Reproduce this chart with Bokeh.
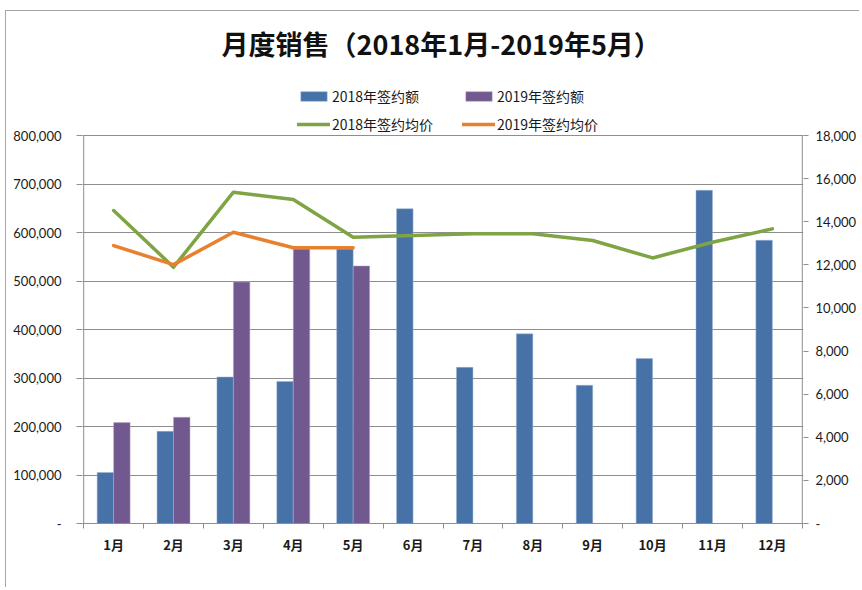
from bokeh.plotting import figure
from bokeh.models import (Range1d, LinearAxis, FixedTicker, CustomJSTickFormatter,
                          Legend, LegendItem, Label, ColumnDataSource)
from bokeh.embed import file_html
from bokeh.resources import INLINE

# ---------------- data ----------------
months = ["1月", "2月", "3月", "4月", "5月", "6月", "7月", "8月", "9月", "10月", "11月", "12月"]
sales_2018 = [105000, 190000, 302000, 293000, 566000, 649000, 322000, 391000, 285000, 340000, 687000, 584000]
sales_2019 = [208000, 219000, 498000, 566000, 531000]
price_2018 = [14520, 11890, 15370, 15030, 13280, 13360, 13440, 13440, 13130, 12320, 13050, 13670]
price_2019 = [12890, 12010, 13510, 12790, 12790]
left_ticks = [0, 100000, 200000, 300000, 400000, 500000, 600000, 700000, 800000]
right_ticks = [0, 2000, 4000, 6000, 8000, 10000, 12000, 14000, 16000, 18000]
title_text = "月度销售（2018年1月-2019年5月）"
legend_labels = ["2018年签约额", "2019年签约额", "2018年签约均价", "2019年签约均价"]

# ---------------- style / layout ----------------
BLUE = "#4672A8"
PURPLE = "#71588F"
GREEN = "#7EA443"
ORANGE = "#E8812F"
GRAY = "#8E8E8E"
CJK = "Noto Sans CJK SC"
NUM = "Lato"
BAR_W = 0.275

W, H = 854, 577
FRAME_H = 512          # frame spans from chart top border to the x axis
AXIS_H = 388           # pixel height of the value axes
PAD = 0.02             # small x padding so the axis lines are not clipped

n = len(months)
centers = [i + 0.5 for i in range(n)]
left_top = left_ticks[-1] * FRAME_H / AXIS_H
right_top = right_ticks[-1] * FRAME_H / AXIS_H

src18 = ColumnDataSource(dict(x=[c - BAR_W / 2 for c in centers], top=sales_2018))
src19 = ColumnDataSource(dict(x=[c + BAR_W / 2 for c in centers[:len(sales_2019)]], top=sales_2019))
lsrc18 = ColumnDataSource(dict(x=centers, y=price_2018))
lsrc19 = ColumnDataSource(dict(x=centers[:len(price_2019)], y=price_2019))

p = figure(width=W, height=H,
           x_range=Range1d(-PAD, n + PAD), y_range=Range1d(0, left_top),
           output_backend="svg", toolbar_location=None,
           min_border_left=76, min_border_right=57,
           min_border_top=0, min_border_bottom=H - FRAME_H)
p.extra_y_ranges = {"price": Range1d(0, right_top)}
p.background_fill_color = "white"
p.border_fill_color = "white"
p.outline_line_color = None
p.styles = {"margin-top": "10px", "margin-left": "5px",
            "border-top": "1px solid #a6a6a6", "border-left": "1px solid #a6a6a6"}

fmt = CustomJSTickFormatter(code="return tick == 0 ? '-' : tick.toLocaleString('en-US');")

# x axis
xa = p.xaxis[0]
xa.ticker = FixedTicker(ticks=centers, minor_ticks=list(range(n + 1)))
xa.formatter = CustomJSTickFormatter(args=dict(months=months),
                                     code="return months[Math.floor(tick)];")
xa.major_tick_out = 0
xa.major_tick_in = 0
xa.minor_tick_out = 5
xa.minor_tick_in = 0
xa.minor_tick_line_color = GRAY
xa.axis_line_color = GRAY
xa.major_label_text_font = CJK
xa.major_label_text_font_size = "13px"
xa.major_label_text_font_style = "bold"
xa.major_label_text_color = "#1a1a1a"
xa.major_label_standoff = 6

# left axis
ya = p.yaxis[0]
ya.ticker = FixedTicker(ticks=left_ticks)
ya.formatter = fmt
ya.major_tick_out = 6
ya.major_tick_in = 0
ya.minor_tick_out = 0
ya.minor_tick_in = 0
ya.major_tick_line_color = GRAY
ya.axis_line_color = None
ya.major_label_text_font = NUM
ya.major_label_text_font_size = "13px"
ya.major_label_text_color = "#1a1a1a"
ya.major_label_standoff = 15

# right axis
ra = LinearAxis(y_range_name="price", ticker=FixedTicker(ticks=right_ticks), formatter=fmt)
ra.major_tick_out = 5
ra.major_tick_in = 0
ra.minor_tick_out = 0
ra.minor_tick_in = 0
ra.major_tick_line_color = GRAY
ra.axis_line_color = None
ra.major_label_text_font = NUM
ra.major_label_text_font_size = "13px"
ra.major_label_text_color = "#1a1a1a"
ra.major_label_standoff = 7
p.add_layout(ra, "right")

p.xgrid.visible = False
p.ygrid.grid_line_color = GRAY
p.ygrid.grid_line_width = 1

# value-axis lines (only as tall as the value scale)
p.segment(x0=[0, n], y0=[0, 0], x1=[0, n], y1=[left_ticks[-1]] * 2,
          line_color=GRAY, line_width=1)

# bars
b18 = p.vbar(x="x", top="top", width=BAR_W, source=src18, fill_color=BLUE,
             line_color="#9db3d3", line_width=0.5)
b19 = p.vbar(x="x", top="top", width=BAR_W, source=src19, fill_color=PURPLE,
             line_color="#b7a8c9", line_width=0.5)

# lines
l18 = p.line(x="x", y="y", source=lsrc18, y_range_name="price", line_color=GREEN,
             line_width=3.5, line_join="round", line_cap="round")
l19 = p.line(x="x", y="y", source=lsrc19, y_range_name="price", line_color=ORANGE,
             line_width=3.5, line_join="round", line_cap="round")

legend = Legend(items=[LegendItem(label=legend_labels[0], renderers=[b18]),
                       LegendItem(label=legend_labels[1], renderers=[b19]),
                       LegendItem(label=legend_labels[2], renderers=[l18]),
                       LegendItem(label=legend_labels[3], renderers=[l19])],
                orientation="horizontal", ncols=2,
                location=(215, 389), padding=0, margin=0, spacing=8,
                glyph_width=33, glyph_height=12, label_standoff=2,
                label_width=122, label_height=20,
                label_text_font=CJK, label_text_font_size="14px",
                label_text_color="#1a1a1a",
                border_line_color=None, background_fill_alpha=0)
p.add_layout(legend, "center")

title = Label(x=5.97, y=left_ticks[-1] * (523 - 43) / AXIS_H,
              text=title_text, text_font=CJK, text_font_size="27px",
              text_font_style="bold", text_align="center", text_baseline="middle",
              text_color="#111111")
p.add_layout(title)

open("out.html", "w").write(file_html(p, INLINE))
